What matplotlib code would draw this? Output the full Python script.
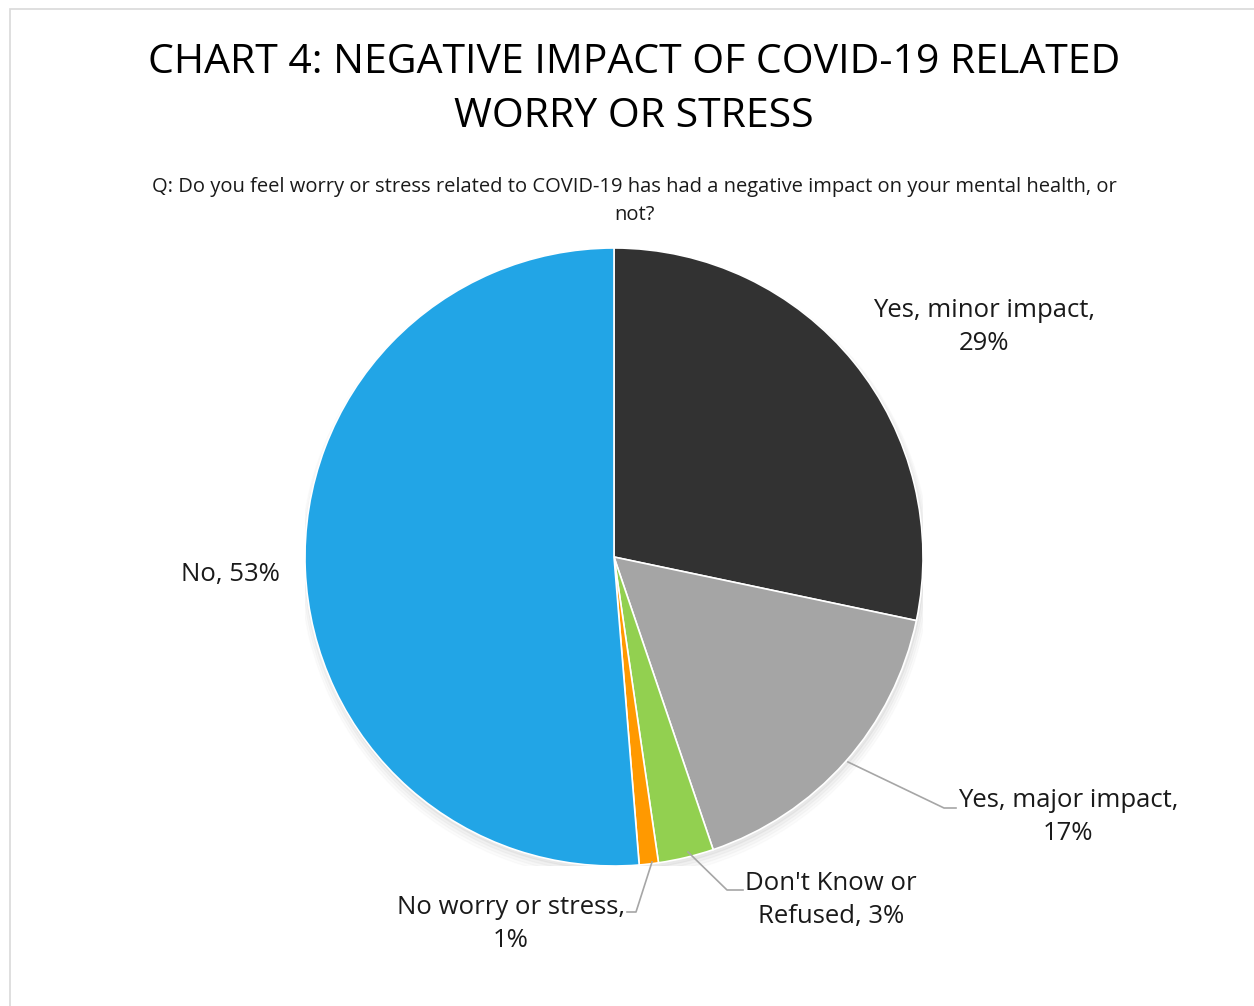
import matplotlib
matplotlib.use("Agg")
import matplotlib.pyplot as plt
from matplotlib.patches import Rectangle

plt.rcParams['font.family'] = ['Open Sans', 'DejaVu Sans']

categories = ["Yes, minor impact", "Yes, major impact", "Don't Know or Refused",
              "No worry or stress", "No"]
shares = [28.3, 16.5, 2.9, 1.0, 51.3]
label_texts = ["Yes, minor impact,\n29%", "Yes, major impact,\n17%",
               "Don't Know or\nRefused, 3%", "No worry or stress,\n1%", "No, 53%"]
colors = ["#323232", "#A5A5A5", "#92D050", "#FF9900", "#22A5E6"]

W, H = 1254, 1006
cx, cy, R = 614, 557, 309

fig = plt.figure(figsize=(W / 100, H / 100), dpi=100)
fig.patches.append(Rectangle((10 / W, -0.1), 2, (H - 9) / H + 0.1, transform=fig.transFigure,
                             fill=False, edgecolor="#D9D9D9", linewidth=1.2))

ax = fig.add_axes([(cx - R) / W, (H - cy - R) / H, 2 * R / W, 2 * R / H])

# soft shadow
for i, a in enumerate([0.03, 0.025, 0.02, 0.015]):
    sh = plt.Circle((0.004, -0.012 - i * 0.004), 1.0 + i * 0.006, color="black",
                    alpha=a, zorder=0)
    ax.add_patch(sh)

ax.pie(shares, colors=colors, startangle=90, counterclock=False, radius=1.0,
       wedgeprops=dict(edgecolor="white", linewidth=1.2, zorder=2))
ax.set_xlim(-1, 1)
ax.set_ylim(-1, 1)
ax.set_aspect("equal")
ax.axis("off")


def d(px, py):
    return ((px - cx) / R, (cy - py) / R)


lab_pos = [(984, 327), (1068, 817), (831, 900), (511, 924), (230, 575)]
for txt, (px, py) in zip(label_texts, lab_pos):
    ax.text(*d(px, py), txt, ha="center", va="center", fontsize=18.5,
            color="#1A1A1A", linespacing=1.45, clip_on=False)

leaders = [
    [(848, 762), (944, 808), (956, 808)],
    [(688, 852), (727, 890), (743, 890)],
    [(652, 862), (636, 912), (627, 912)],
]
for pts in leaders:
    xs, ys = zip(*[d(*p) for p in pts])
    ax.plot(xs, ys, color="#A6A6A6", linewidth=1.2, clip_on=False, zorder=3)

fig.text(634 / W, 1 - 90 / H, "CHART 4: NEGATIVE IMPACT OF COVID-19 RELATED\nWORRY OR STRESS",
         ha="center", va="center", fontsize=29.5, color="black", linespacing=1.45)
fig.text(634 / W, 1 - 201 / H,
         "Q: Do you feel worry or stress related to COVID-19 has had a negative impact on your mental health, or\nnot?",
         ha="center", va="center", fontsize=14.5, color="#1A1A1A", linespacing=1.5)

fig.savefig("out.png", dpi=100)
